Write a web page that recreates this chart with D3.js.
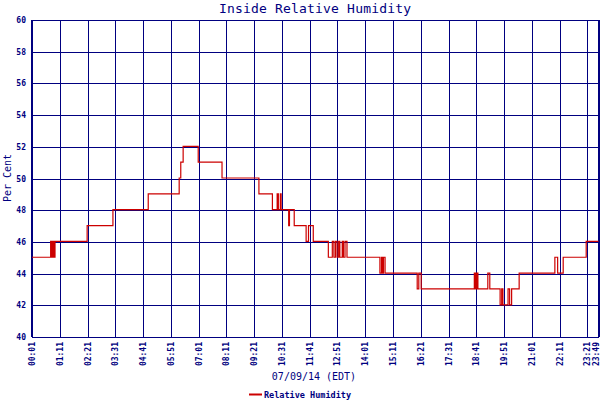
<!DOCTYPE html>
<meta charset="utf-8">
<style>
body { margin: 0; background: #fff; }
svg text { font-family: "DejaVu Sans Mono", monospace; fill: #000080; }
.tick { font-size: 8px; font-weight: bold; }
</style>
<body>
<svg id="svg" width="600" height="400"></svg>
<script src="https://cdn.jsdelivr.net/npm/d3@7/dist/d3.min.js"></script>
<script>
// readings, step-after: time of change and new humidity value
const times = ["00:01","00:48","00:51","00:54","00:56","00:59","02:20","03:25","04:54","06:12","06:16","06:22",
  "07:00","08:00","09:33","10:07","10:19","10:22","10:27","10:29","10:48","10:50","11:02","11:32","11:38","11:50",
  "12:28","12:38","12:42","12:46","12:50","12:54","12:57","13:03","13:06","13:10","13:15",
  "14:38","14:42","14:45","14:47","14:51","16:12","16:16","16:22",
  "18:36","18:39","18:42","18:45","19:10","19:15","19:41","19:45","19:48","20:01","20:05","20:10","20:29",
  "21:59","22:06","22:20","23:18","23:49"];
const humidity = [45,46,45,46,45,46,47,48,49,50,51,52,
  51,50,49,48,49,48,49,48,47,48,47,46,47,46,
  45,46,45,46,45,46,45,46,45,46,45,
  44,45,44,45,44,43,44,43,
  44,43,44,43,44,43,42,43,42,43,42,43,44,
  45,44,45,46,46];
const xTickLabels = ["00:01","01:11","02:21","03:31","04:41","05:51","07:01","08:11","09:21","10:31","11:41",
  "12:51","14:01","15:11","16:21","17:31","18:41","19:51","21:01","22:11","23:21","23:49"];
const yTicks = [40,42,44,46,48,50,52,54,56,58,60];

const toMin = s => { const p = s.split(":"); return +p[0] * 60 + +p[1]; };
const data = times.map((t, i) => ({ m: toMin(t), v: humidity[i] }));

const svg = d3.select("#svg");
const plotL = 32, plotR = 598.5, plotT = 20, plotB = 337;

const x = d3.scaleLinear().domain([toMin("00:01"), toMin("23:49")]).range([plotL, plotR]);
const y = d3.scaleLinear().domain([40, 60]).range([plotB, plotT]);

// grid
const grid = svg.append("g").attr("stroke", "#000080").attr("shape-rendering", "crispEdges");
grid.selectAll(".h").data(yTicks).enter().append("line")
  .attr("x1", plotL).attr("x2", plotR)
  .attr("y1", d => Math.round(y(d)) + 0.5).attr("y2", d => Math.round(y(d)) + 0.5);
grid.selectAll(".v").data(xTickLabels).enter().append("line")
  .attr("x1", d => Math.round(x(toMin(d))) + 0.5).attr("x2", d => Math.round(x(toMin(d))) + 0.5)
  .attr("y1", plotT).attr("y2", plotB);
grid.append("line").attr("x1", plotL).attr("x2", plotL).attr("y1", plotT).attr("y2", plotB).attr("stroke-width", 2);
grid.append("line").attr("x1", plotR).attr("x2", plotR).attr("y1", plotT).attr("y2", plotB).attr("stroke-width", 2);

// humidity line
const line = d3.line().x(d => x(d.m)).y(d => y(d.v) - 0.5).curve(d3.curveStepAfter);
svg.append("path").datum(data)
  .attr("fill", "none").attr("stroke", "#cc0000").attr("stroke-width", 1.2)
  .attr("d", line);

// y tick labels
svg.selectAll(".yl").data(yTicks).enter().append("text")
  .attr("class", "tick").attr("x", 26).attr("y", d => y(d) + 3)
  .attr("text-anchor", "end").text(d => d);

// x tick labels, rotated (last one kept inside the window edge)
svg.selectAll(".xl").data(xTickLabels).enter().append("text")
  .attr("class", "tick")
  .attr("transform", d => "translate(" + Math.min(x(toMin(d)) + 3, 599) + ",342)rotate(-90)")
  .attr("text-anchor", "end").text(d => d);

// titles
svg.append("text").attr("x", 315).attr("y", 12.5).attr("text-anchor", "middle")
  .style("font-size", "13px").attr("textLength", 192).attr("lengthAdjust", "spacing")
  .text("Inside Relative Humidity");
svg.append("text").attr("x", 314).attr("y", 380).attr("text-anchor", "middle")
  .style("font-size", "10px").text("07/09/14 (EDT)");
svg.append("text").attr("transform", "translate(11,178)rotate(-90)").attr("text-anchor", "middle")
  .style("font-size", "10px").text("Per Cent");

// legend
svg.append("line").attr("x1", 249).attr("x2", 262).attr("y1", 394.5).attr("y2", 394.5)
  .attr("stroke", "#cc0000").attr("stroke-width", 2);
svg.append("text").attr("class", "tick").attr("x", 264).attr("y", 397.5)
  .style("font-size", "8.5px").text("Relative Humidity");
</script>
</body>
